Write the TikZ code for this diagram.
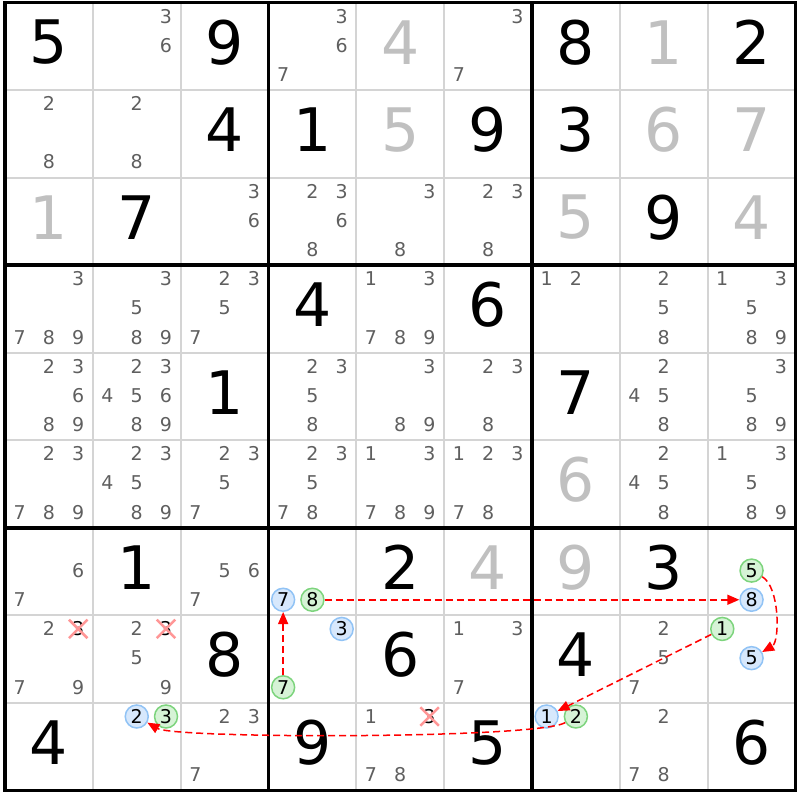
\documentclass[tikz,border=0pt]{standalone}
\usepackage{fontspec}
\setmainfont{DejaVu Sans}
\usetikzlibrary{shapes}
\usetikzlibrary{arrows.meta}

\definecolor{candgray}{RGB}{95,95,95}
\definecolor{solvedgray}{RGB}{192,192,192}
\definecolor{linegray}{RGB}{212,212,212}
\definecolor{crosspink}{RGB}{255,150,150}
\definecolor{blueline}{RGB}{145,195,245}
\definecolor{bluefill}{RGB}{215,232,252}
\definecolor{greenline}{RGB}{125,212,125}
\definecolor{greenfill}{RGB}{214,243,214}

% position of digit #3 in cell (row #1, column #2)
\newcommand{\cellxy}[3]{%
	\pgfmathsetmacro{\cellx}{5+(#2-1)*87.83+(2*mod(#3-1,3)+1)*14.64}%
	\pgfmathsetmacro{\celly}{-(2.5+(#1-1)*87.55+(2*floor((#3-1)/3)+1)*14.59)+1}%
}
\newcommand{\val}[4]{%
	\cellxy{#2}{#3}{5}%
	\node[#1] at (\cellx,\celly+3) {#4};
}
\newcommand{\cands}[3]{%
	\foreach \dg in {#3} {
		\cellxy{#1}{#2}{\dg}
		\node[node_cand] at (\cellx,\celly) {\dg};
	}
}
\newcommand{\candnode}[5]{%
	\cellxy{#3}{#4}{#5}%
	\node[#1] (#2) at (\cellx,\celly) {#5};
}

\tikzset{
	node_digit/.style = {
		inner sep=0pt,
		font=\fontsize{60}{60}\selectfont
	},
	node_given/.style = {
		node_digit,
		text=black
	},
	node_solved/.style = {
		node_digit,
		text=solvedgray
	},
	node_cand/.style = {
		inner sep=0pt,
		font=\fontsize{19}{19}\selectfont,
		text=candgray
	},
	node_cross/.style = {
		node_cand,
		cross out,
		draw=crosspink,
		line width=2.5pt,
		minimum size=16pt,
		text=black
	},
	node_chain/.style = {
		node_cand,
		circle,
		minimum size=23pt,
		line width=1.5pt,
		text=black
	},
	node_blue/.style = {
		node_chain,
		draw=blueline,
		fill=bluefill
	},
	node_green/.style = {
		node_chain,
		draw=greenline,
		fill=greenfill
	},
	line_thin/.style = {
		linegray,
		line width=2pt
	},
	line_thick/.style = {
		black,
		line width=3.5pt
	},
	link/.style = {
		->,
		red,
		line width=1.5pt,
		dash pattern=on 7pt off 4pt
	},
}

\begin{document}
\begin{tikzpicture}[x=1pt,y=1pt,>={Triangle[length=12pt,width=10pt]}]
\useasboundingbox (0,0) rectangle (800,-800);
% grid
\foreach \i in {1,...,8} {
	\draw[line_thin] ({5+\i*87.83},-2.5) -- ({5+\i*87.83},-790.45);
	\draw[line_thin] (5,{-2.5-\i*87.55}) -- (795.5,{-2.5-\i*87.55});
}
\foreach \i in {3,6} {
	\draw[line_thick] ({5+\i*87.83},-2.5) -- ({5+\i*87.83},-790.45);
	\draw[line_thick] (5,{-2.5-\i*87.55}) -- (795.5,{-2.5-\i*87.55});
}
\draw[line_thick] (5,-2.5) rectangle (795.5,-790.45);

% values
\foreach \r/\c/\v in {1/1/5, 1/3/9, 1/7/8, 1/9/2, 2/3/4, 2/4/1, 2/6/9, 2/7/3, 3/2/7, 3/8/9,
	4/4/4, 4/6/6, 5/3/1, 5/7/7, 7/2/1, 7/5/2, 7/8/3, 8/3/8, 8/5/6, 8/7/4, 9/1/4, 9/4/9, 9/6/5, 9/9/6}
	{\val{node_given}{\r}{\c}{\v}}
\foreach \r/\c/\v in {1/5/4, 1/8/1, 2/5/5, 2/8/6, 2/9/7, 3/1/1, 3/7/5, 3/9/4, 6/7/6, 7/6/4, 7/7/9}
	{\val{node_solved}{\r}{\c}{\v}}

% candidates
\cands{1}{2}{3,6}
\cands{1}{4}{3,6,7}
\cands{1}{6}{3,7}
\cands{2}{1}{2,8}
\cands{2}{2}{2,8}
\cands{3}{3}{3,6}
\cands{3}{4}{2,3,6,8}
\cands{3}{5}{3,8}
\cands{3}{6}{2,3,8}
\cands{4}{1}{3,7,8,9}
\cands{4}{2}{3,5,8,9}
\cands{4}{3}{2,3,5,7}
\cands{4}{5}{1,3,7,8,9}
\cands{4}{7}{1,2}
\cands{4}{8}{2,5,8}
\cands{4}{9}{1,3,5,8,9}
\cands{5}{1}{2,3,6,8,9}
\cands{5}{2}{2,3,4,5,6,8,9}
\cands{5}{4}{2,3,5,8}
\cands{5}{5}{3,8,9}
\cands{5}{6}{2,3,8}
\cands{5}{8}{2,4,5,8}
\cands{5}{9}{3,5,8,9}
\cands{6}{1}{2,3,7,8,9}
\cands{6}{2}{2,3,4,5,8,9}
\cands{6}{3}{2,3,5,7}
\cands{6}{4}{2,3,5,7,8}
\cands{6}{5}{1,3,7,8,9}
\cands{6}{6}{1,2,3,7,8}
\cands{6}{8}{2,4,5,8}
\cands{6}{9}{1,3,5,8,9}
\cands{7}{1}{6,7}
\cands{7}{3}{5,6,7}
\cands{8}{1}{2,7,9}
\cands{8}{2}{2,5,9}
\cands{8}{6}{1,3,7}
\cands{8}{8}{2,5,7}
\cands{9}{3}{2,3,7}
\cands{9}{5}{1,7,8}
\cands{9}{8}{2,7,8}

% eliminated
\candnode{node_cross}{x81}{8}{1}{3}
\candnode{node_cross}{x82}{8}{2}{3}
\candnode{node_cross}{x95}{9}{5}{3}

% chain
\candnode{node_blue}{b74}{7}{4}{7}
\candnode{node_green}{g74}{7}{4}{8}
\candnode{node_green}{g79}{7}{9}{5}
\candnode{node_blue}{b79}{7}{9}{8}
\candnode{node_blue}{b84}{8}{4}{3}
\candnode{node_green}{g84}{8}{4}{7}
\candnode{node_green}{g89}{8}{9}{1}
\candnode{node_blue}{b89}{8}{9}{5}
\candnode{node_blue}{b92}{9}{2}{2}
\candnode{node_green}{g92}{9}{2}{3}
\candnode{node_blue}{b97}{9}{7}{1}
\candnode{node_green}{g97}{9}{7}{2}

\draw[link] (g84) -- (b74);
\draw[link] (g74) -- (b79);
\draw[link] (g79) to[out=-30,in=30,looseness=0.7] (b89);
\draw[link] (g89) -- (b97);
\draw[link] (g97) to[out=210,in=-30,looseness=0.2] (b92);
\end{tikzpicture}
\end{document}
